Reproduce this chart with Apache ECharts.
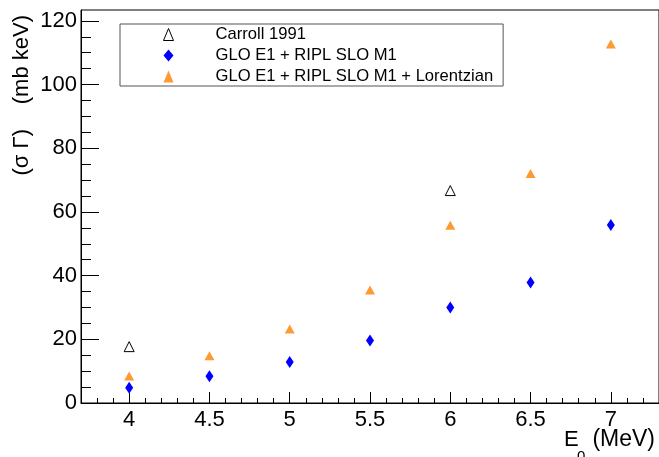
<!DOCTYPE html>
<html>
<head>
<meta charset="utf-8">
<script src="https://cdn.jsdelivr.net/npm/echarts@6/dist/echarts.min.js"></script>
<style>
  html, body { margin: 0; padding: 0; background: #fff; }
  #chart { width: 659px; height: 457px; }
</style>
</head>
<body>
<div id="chart"></div>
<script>
// Energies E0 (MeV)
const energies = [4, 4.5, 5, 5.5, 6, 6.5, 7];
// Measured (σΓ) values, Carroll 1991 (only at 4 and 6 MeV)
const carrollE = [4, 6];
const carroll = [17.7, 66.7];
// Model: GLO E1 + RIPL SLO M1
const gloSlo = [4.8, 8.4, 12.9, 19.6, 30.0, 37.8, 55.9];
// Model: GLO E1 + RIPL SLO M1 + Lorentzian
const gloSloLor = [8.5, 14.8, 23.2, 35.5, 55.8, 72.1, 112.7];

const seriesNames = ['Carroll 1991', 'GLO E1 + RIPL SLO M1', 'GLO E1 + RIPL SLO M1 + Lorentzian'];

// Tick positions
const xMajor = [4, 4.5, 5, 5.5, 6, 6.5, 7];
const yMajor = [0, 20, 40, 60, 80, 100, 120];
const xMinor = [];
for (let i = 38; i <= 72; i++) xMinor.push(i / 10);
const yMinor = [];
for (let v = 0; v <= 120; v += 5) yMinor.push(v);

const FONT = '"Liberation Sans", Arial, Helvetica, sans-serif';
const X_MIN = 3.7, X_MAX = 7.3, Y_MIN = 0, Y_MAX = 123.4;

const chart = echarts.init(document.getElementById('chart'), null, { renderer: 'canvas' });

const baseX = { type: 'value', min: X_MIN, max: X_MAX, position: 'bottom', splitLine: { show: false } };
const baseY = { type: 'value', min: Y_MIN, max: Y_MAX, position: 'left', splitLine: { show: false } };

chart.setOption({
  animation: false,
  backgroundColor: '#fff',
  grid: {
    left: 81, right: 0, top: 10, bottom: 54,
    show: true, borderColor: '#000', borderWidth: 1, backgroundColor: 'transparent'
  },
  xAxis: [
    Object.assign({}, baseX, {
      axisLine: { show: true, lineStyle: { color: '#000', width: 1 } },
      axisTick: { show: true, inside: true, length: 11, customValues: xMajor, lineStyle: { color: '#000' } },
      axisLabel: { show: true, customValues: xMajor, color: '#000', fontSize: 22, fontFamily: FONT, margin: 6 }
    }),
    Object.assign({}, baseX, {
      axisLine: { show: false },
      axisTick: { show: true, inside: true, length: 5, customValues: xMinor, lineStyle: { color: '#000' } },
      axisLabel: { show: false }
    })
  ],
  yAxis: [
    Object.assign({}, baseY, {
      axisLine: { show: true, lineStyle: { color: '#000', width: 1 } },
      axisTick: { show: true, inside: true, length: 18, customValues: yMajor, lineStyle: { color: '#000' } },
      axisLabel: { show: true, customValues: yMajor, color: '#000', fontSize: 22, fontFamily: FONT, margin: 4 }
    }),
    Object.assign({}, baseY, {
      axisLine: { show: false },
      axisTick: { show: true, inside: true, length: 10, customValues: yMinor, lineStyle: { color: '#000' } },
      axisLabel: { show: false }
    })
  ],
  legend: {
    left: 120, top: 24,
    orient: 'vertical',
    padding: [2, 10, 1, 43],
    itemWidth: 10, itemHeight: 12, itemGap: 4,
    borderColor: '#555', borderWidth: 1,
    backgroundColor: '#fff',
    selectedMode: false,
    data: [
      { name: seriesNames[0], itemStyle: { borderWidth: 1 } },
      { name: seriesNames[1] },
      { name: seriesNames[2] }
    ],
    formatter: name => '{t|' + name + '}',
    textStyle: {
      color: '#000', fontSize: 16.6, fontFamily: FONT,
      rich: { t: { fontSize: 16.6, lineHeight: 19, fontFamily: FONT, color: '#000', padding: [0, 0, 0, 37] } }
    }
  },
  graphic: [
    // y-axis title, rotated
    { type: 'text', x: 22, y: 15, rotation: Math.PI / 2, z: 10,
      style: { text: '(mb keV)', font: '22px ' + FONT, fill: '#000', align: 'right', verticalAlign: 'middle', textAlign: 'right', textVerticalAlign: 'middle' } },
    { type: 'text', x: 22, y: 129, rotation: Math.PI / 2, z: 10,
      style: { text: '(σ Γ)', font: '22px ' + FONT, fill: '#000', align: 'right', verticalAlign: 'middle', textAlign: 'right', textVerticalAlign: 'middle' } },
    // x-axis title E_0 (MeV)
    { type: 'text', x: 564, y: 440, z: 10,
      style: { text: 'E', font: '22px ' + FONT, fill: '#000', align: 'left', verticalAlign: 'middle', textAlign: 'left', textVerticalAlign: 'middle' } },
    { type: 'text', x: 577, y: 457, z: 10,
      style: { text: '0', font: '15px ' + FONT, fill: '#000', align: 'left', verticalAlign: 'middle', textAlign: 'left', textVerticalAlign: 'middle' } },
    { type: 'text', x: 655, y: 440, z: 10,
      style: { text: '(MeV)', font: '23px ' + FONT, fill: '#000', align: 'right', verticalAlign: 'middle', textAlign: 'right', textVerticalAlign: 'middle' } }
  ],
  series: [
    {
      name: seriesNames[0], type: 'scatter', xAxisIndex: 0, yAxisIndex: 0,
      symbol: 'triangle', symbolSize: [10, 10],
      itemStyle: { color: 'rgba(255,255,255,0)', borderColor: '#000', borderWidth: 1, opacity: 1 },
      data: carrollE.map((e, i) => [e, carroll[i]]), z: 5
    },
    {
      name: seriesNames[1], type: 'scatter', xAxisIndex: 0, yAxisIndex: 0,
      symbol: 'diamond', symbolSize: [8, 12],
      itemStyle: { color: '#0000ff', opacity: 1 },
      data: energies.map((e, i) => [e, gloSlo[i]]), z: 4
    },
    {
      name: seriesNames[2], type: 'scatter', xAxisIndex: 0, yAxisIndex: 0,
      symbol: 'triangle', symbolSize: [10, 9],
      itemStyle: { color: '#fe9a33', opacity: 1 },
      data: energies.map((e, i) => [e, gloSloLor[i]]), z: 4
    }
  ]
});
</script>
</body>
</html>
